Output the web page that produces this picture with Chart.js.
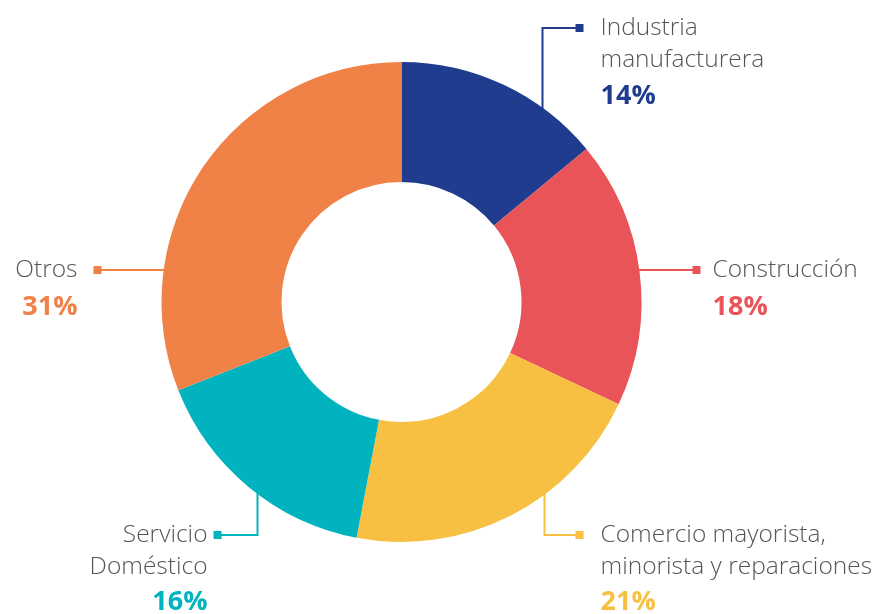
<!DOCTYPE html>
<html>
<head>
<meta charset="utf-8">
<script src="https://cdn.jsdelivr.net/npm/chart.js@4"></script>
<style>
  html, body { margin: 0; padding: 0; background: #fff; }
  #wrap { width: 890px; height: 614px; position: relative; }
</style>
</head>
<body>
<div id="wrap"><canvas id="dona"></canvas></div>
<script>
// Datos del gráfico
const categorias = [
  ["Industria", "manufacturera"],
  ["Construcción"],
  ["Comercio mayorista,", "minorista y reparaciones"],
  ["Servicio", "Doméstico"],
  ["Otros"],
]
const porcentajes = [14, 18, 21, 16, 31]
const colores = ["#1f3c8f", "#e95458", "#f8c042", "#00b3bf", "#f08247"]

// Ubicación de cada etiqueta (relativa al centro, en px)
// tipo "v": línea vertical desde el arco y luego horizontal; "h": sólo horizontal
const etiquetas = [
  { tipo: "v", dx: 141, codoY: -274, finX: 178, textoX: 199, lado: "der", paso: 36 },
  { tipo: "h", dy: -32, finX: 295, textoX: 311, lado: "der", paso: 37 },
  { tipo: "v", dx: 143, codoY: 233, finX: 178, textoX: 199, lado: "der", paso: 35 },
  { tipo: "v", dx: -144, codoY: 233, finX: -184, textoX: -194, lado: "izq", paso: 35 },
  { tipo: "h", dy: -32, finX: -304, textoX: -324, lado: "izq", paso: 37 },
]

const pluginEtiquetas = {
  id: "etiquetas",
  afterDraw(chart) {
    const ctx = chart.ctx
    const arcos = chart.getDatasetMeta(0).data
    arcos.forEach((arco, i) => {
      const cx = arco.x
      const cy = arco.y
      const R = arco.outerRadius
      const e = etiquetas[i]
      const color = colores[i]
      let ini, codo, fin
      if (e.tipo === "v") {
        const sx = cx + e.dx
        const sgn = e.codoY < 0 ? -1 : 1
        const sy = cy + sgn * Math.sqrt(R * R - e.dx * e.dx)
        ini = [sx, sy + sgn * -6]
        codo = [sx, cy + e.codoY]
        fin = [cx + e.finX, cy + e.codoY]
      } else {
        const sy = cy + e.dy
        const sgn = e.finX < 0 ? -1 : 1
        const sx = cx + sgn * Math.sqrt(R * R - e.dy * e.dy)
        ini = [sx - sgn * 6, sy]
        codo = null
        fin = [cx + e.finX, sy]
      }
      ctx.save()
      ctx.strokeStyle = color
      ctx.lineWidth = 2
      ctx.beginPath()
      ctx.moveTo(ini[0], ini[1])
      if (codo) ctx.lineTo(codo[0], codo[1])
      ctx.lineTo(fin[0], fin[1])
      ctx.stroke()
      ctx.fillStyle = color
      ctx.fillRect(fin[0] - 4, fin[1] - 4, 8, 8)

      // textos
      const tx = cx + e.textoX
      let ty = fin[1]
      ctx.textAlign = e.lado === "der" ? "left" : "right"
      ctx.textBaseline = "middle"
      ctx.fillStyle = "#555555"
      ctx.font = "300 24.5px 'Open Sans', Lato, sans-serif"
      categorias[i].forEach((linea, k) => {
        ctx.fillText(linea, tx, ty + k * 32)
      })
      ty += (categorias[i].length - 1) * 32 + e.paso
      ctx.fillStyle = color
      ctx.font = "bold 27px 'Open Sans', Lato, sans-serif"
      ctx.fillText(porcentajes[i] + "%", tx, ty)
      ctx.restore()
    })
  },
}

const config = {
  type: "doughnut",
  data: {
    labels: categorias.map((c) => c.join(" ")),
    datasets: [
      {
        data: porcentajes,
        backgroundColor: colores,
        borderWidth: 0,
      },
    ],
  },
  options: {
    responsive: true,
    maintainAspectRatio: false,
    animation: false,
    cutout: "50%",
    layout: {
      padding: { top: 62, bottom: 72, left: 161, right: 248 },
    },
    plugins: {
      legend: { display: false },
      tooltip: { enabled: false },
    },
  },
  plugins: [pluginEtiquetas],
}

const grafico = new Chart(document.getElementById("dona"), config)
</script>
</body>
</html>
